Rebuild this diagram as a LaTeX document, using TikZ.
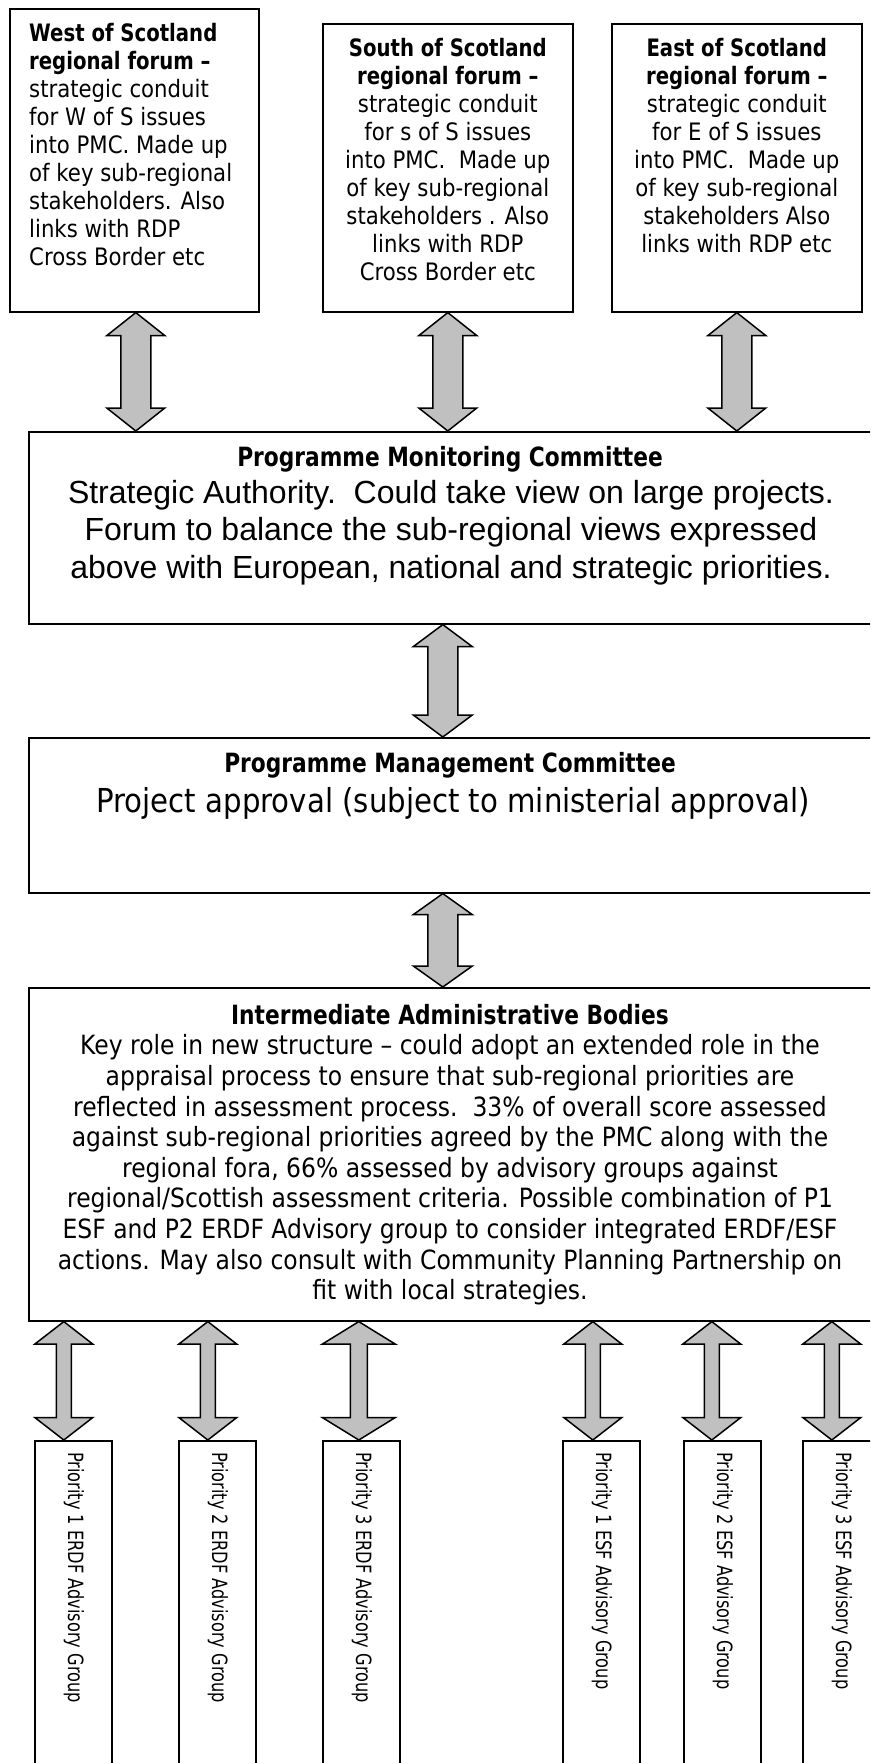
\documentclass[tikz,border=0pt]{standalone}
\usepackage{fontspec}
\usetikzlibrary{calc}
\newfontfamily\tah[FakeStretch=0.885,BoldFeatures={FakeStretch=0.82}]{DejaVu Sans}
\newfontfamily\vfont[FakeStretch=0.77]{DejaVu Sans}
\newfontfamily\ari{Liberation Sans}
\definecolor{arrowgray}{HTML}{C0C0C0}
\tikzset{
  boxstyle/.style={draw=black, line width=1.6pt, inner sep=0pt, anchor=north west},
  txt/.style={inner sep=0pt},
  toptext/.style={txt, font={\tah\fontsize{24}{28}\selectfont}},
  headtext/.style={txt, anchor=base, font={\tah\bfseries\fontsize{26.5}{30}\selectfont}},
  vtext/.style={txt, rotate=-90, anchor=base west, font={\vfont\fontsize{21}{24}\selectfont}},
  blockarr/.style={draw=black, line width=1.5pt, fill=arrowgray, line join=miter},
}
\newcommand{\blkarrow}[5]{%
  \draw[blockarr] (#1) -- ($(#1)+(#3,#5)$) -- ($(#1)+(#4,#5)$) -- ($(#2)+(#4,-#5)$) -- ($(#2)+(#3,-#5)$) -- (#2)
    -- ($(#2)+(-#3,-#5)$) -- ($(#2)+(-#4,-#5)$) -- ($(#1)+(-#4,#5)$) -- ($(#1)+(-#3,#5)$) -- cycle;}
\begin{document}
\begin{tikzpicture}[x=1pt,y=-1pt]
\useasboundingbox (0,0) rectangle (870,1763);
\clip (0,0) rectangle (870,1763);

% top boxes
\node[boxstyle, minimum width=249pt, minimum height=303pt] (west) at (9,8) {};
\node[boxstyle, minimum width=250pt, minimum height=288pt] (south) at (322,23) {};
\node[boxstyle, minimum width=250pt, minimum height=288pt] (east) at (611,23) {};

\node[toptext, anchor=north west, align=left] (westtxt) at (29,23.4)
  {{\bfseries West of Scotland}\\ {\bfseries regional forum –}\\ strategic conduit\\ for W of S issues\\ into PMC. Made up\\ of key sub-regional\\ stakeholders. Also\\ links with RDP\\ Cross Border etc};
\node[toptext, anchor=north, align=center] (southtxt) at (south.north |- 0,38.4)
  {{\bfseries South of Scotland}\\ {\bfseries regional forum –}\\ strategic conduit\\ for s of S issues\\ into PMC.\ \ Made up\\ of key sub-regional\\ stakeholders . Also\\ links with RDP\\ Cross Border etc};
\node[toptext, anchor=north, align=center] (easttxt) at (east.north |- 0,38.4)
  {{\bfseries East of Scotland}\\ {\bfseries regional forum –}\\ strategic conduit\\ for E of S issues\\ into PMC.\ \ Made up\\ of key sub-regional\\ stakeholders Also\\ links with RDP etc};

% PMC
\node[boxstyle, minimum width=844pt, minimum height=192pt] (pmc) at (28,431) {};
\node[headtext] (pmchead) at (450,466.5) {Programme Monitoring Committee};
\node[txt, anchor=north, align=center, font={\ari\fontsize{32}{37.5}\selectfont}] (pmcbody) at (451,480)
  {Strategic Authority.\ \ Could take view on large projects.\\ Forum to balance the sub-regional views expressed\\ above with European, national and strategic priorities.};

% Programme Management Committee
\node[boxstyle, minimum width=844pt, minimum height=155pt] (pmg) at (28,737) {};
\node[headtext] (pmghead) at (450,772.5) {Programme Management Committee};
\node[txt, anchor=north, font={\tah\fontsize{33}{38}\selectfont}] (pmgbody) at (453,787)
  {Project approval (subject to ministerial approval)};

% IAB
\node[boxstyle, minimum width=844pt, minimum height=333pt] (iab) at (28,987) {};
\node[headtext] (iabhead) at (450,1024.4) {Intermediate Administrative Bodies};
\node[txt, anchor=north, align=center, font={\tah\fontsize{26.5}{30.6}\selectfont}] (iabbody) at (450,1034.5)
  {Key role in new structure – could adopt an extended role in the\\
   appraisal process to ensure that sub-regional priorities are\\
   reflected in assessment process.\ \ 33\% of overall score assessed\\
   against sub-regional priorities agreed by the PMC along with the\\
   regional fora, 66\% assessed by advisory groups against\\
   regional/Scottish assessment criteria. Possible combination of P1\\
   ESF and P2 ERDF Advisory group to consider integrated ERDF/ESF\\
   actions. May also consult with Community Planning Partnership on\\
   fit with local strategies.};

% bottom boxes
\foreach \n/\xl in {1/34, 2/178, 3/322, 4/562, 5/683, 6/802} {
  \node[boxstyle, minimum width=77pt, minimum height=340pt] (g\n) at (\xl,1440) {};
}
\node[vtext] (g1txt) at (68,1452) {Priority 1 ERDF Advisory Group};
\node[vtext] (g2txt) at (212,1452) {Priority 2 ERDF Advisory Group};
\node[vtext] (g3txt) at (356,1452) {Priority 3 ERDF Advisory Group};
\node[vtext] (g4txt) at (596,1452) {Priority 1 ESF Advisory Group};
\node[vtext] (g5txt) at (717,1452) {Priority 2 ESF Advisory Group};
\node[vtext] (g6txt) at (836,1452) {Priority 3 ESF Advisory Group};

% arrows: top
\coordinate (a1t) at ([xshift=1.5pt]west.south);
\coordinate (a1b) at (a1t |- pmc.north);
\coordinate (a2t) at (south.south);
\coordinate (a2b) at (a2t |- pmc.north);
\coordinate (a3t) at (east.south);
\coordinate (a3b) at (a3t |- pmc.north);
\blkarrow{a1t}{a1b}{29}{15}{23}
\blkarrow{a2t}{a2b}{29}{15}{23}
\blkarrow{a3t}{a3b}{29}{15}{23}

% middle arrows
\coordinate (m1t) at ([xshift=-8pt]pmc.south);
\coordinate (m1b) at (m1t |- pmg.north);
\coordinate (m2t) at ([xshift=-8pt]pmg.south);
\coordinate (m2b) at (m2t |- iab.north);
\blkarrow{m1t}{m1b}{29.5}{15}{22}
\blkarrow{m2t}{m2b}{29.5}{15}{21}

% bottom arrows
\foreach \n/\dx/\hw/\sw in {1/-9.5/29/7.5, 2/-9.5/29/7.5, 3/-2.5/36.5/8.5, 4/-8.5/29/7.5, 5/-10.5/29/7.5, 6/-9.5/29/7.5} {
  \coordinate (b\n b) at ([xshift=\dx pt]g\n.north);
  \coordinate (b\n t) at (b\n b |- iab.south);
  \blkarrow{b\n t}{b\n b}{\hw}{\sw}{22.5}
}
\end{tikzpicture}
\end{document}
